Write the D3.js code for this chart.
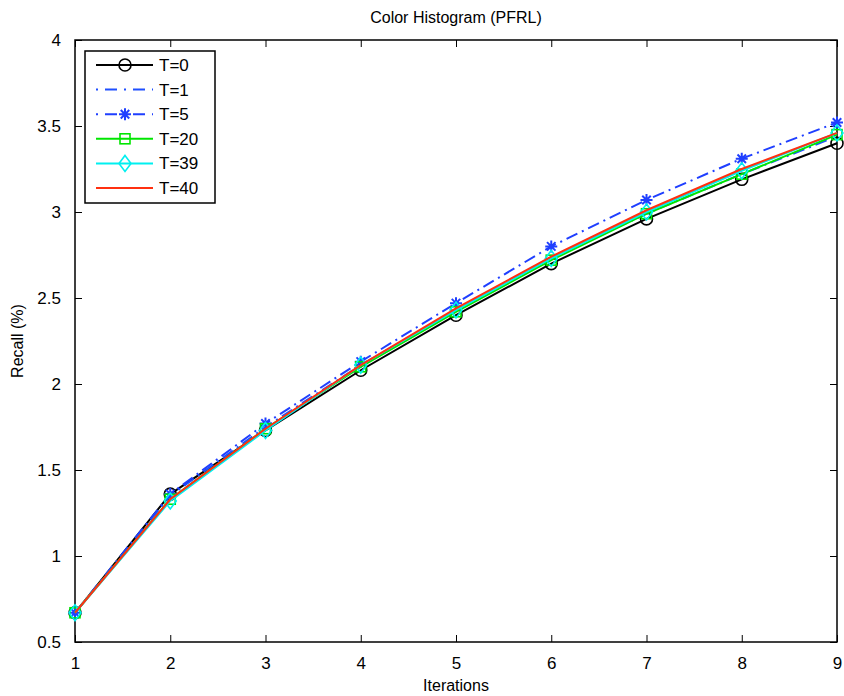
<!DOCTYPE html>
<html>
<head>
<meta charset="utf-8">
<script src="https://cdn.jsdelivr.net/npm/d3@7/dist/d3.min.js"></script>
<style>
  body { margin: 0; background: #fff; }
  text { font-family: "Liberation Sans", Arial, sans-serif; }
</style>
</head>
<body>
<div id="chart"></div>
<script>
var iterations = [1, 2, 3, 4, 5, 6, 7, 8, 9];
var t0  = [0.67, 1.36, 1.73, 2.08, 2.40, 2.70, 2.96, 3.19, 3.40];
var t1  = [0.67, 1.35, 1.75, 2.11, 2.43, 2.73, 2.99, 3.22, 3.44];
var t5  = [0.67, 1.36, 1.77, 2.13, 2.47, 2.80, 3.07, 3.31, 3.52];
var t20 = [0.67, 1.33, 1.74, 2.10, 2.42, 2.72, 2.99, 3.22, 3.45];
var t39 = [0.67, 1.32, 1.73, 2.11, 2.43, 2.73, 3.00, 3.24, 3.46];
var t40 = [0.67, 1.33, 1.74, 2.11, 2.44, 2.74, 3.01, 3.25, 3.46];
var yTicks = [0.5, 1, 1.5, 2, 2.5, 3, 3.5, 4];

var series = [
    {name: "T=0",  values: t0,  color: "#000000", dash: null, marker: "circle"},
    {name: "T=1",  values: t1,  color: "#1f4fff", dash: "12,5,2,5", marker: null},
    {name: "T=5",  values: t5,  color: "#1f3fff", dash: "12,5,2,5", marker: "star"},
    {name: "T=20", values: t20, color: "#00e600", dash: null, marker: "square"},
    {name: "T=39", values: t39, color: "#00f0f0", dash: null, marker: "diamond"},
    {name: "T=40", values: t40, color: "#ff3010", dash: null, marker: null}
];

var margin = {top: 40, right: 7, bottom: 54, left: 75},
    width = 844 - margin.left - margin.right,
    height = 696 - margin.top - margin.bottom;

const svg = d3.select("#chart").append("svg")
    .attr("width", 844)
    .attr("height", 696)
    .append("g")
    .attr("transform", "translate(" + margin.left + "," + margin.top + ")");

let x = d3.scaleLinear().domain([1, 9]).range([0, width]);
let y = d3.scaleLinear().domain([0.5, 4]).range([height, 0]);

// axes, ticks pointing inward, box on all sides
svg.append("g")
    .attr("transform", `translate(0,${height})`)
    .call(d3.axisBottom(x).tickValues(iterations).tickSize(-7).tickPadding(15).tickFormat(d3.format("d")))
    .call(g => g.selectAll(".domain").remove())
    .call(g => g.selectAll("text").style("font-size", "17px"));
svg.append("g")
    .call(d3.axisTop(x).tickValues(iterations).tickSize(-7).tickFormat(""))
    .call(g => g.selectAll(".domain").remove());
svg.append("g")
    .call(d3.axisLeft(y).tickValues(yTicks).tickSize(-7).tickPadding(14).tickFormat(d => d))
    .call(g => g.selectAll(".domain").remove())
    .call(g => g.selectAll("text").style("font-size", "17px"));
svg.append("g")
    .attr("transform", `translate(${width},0)`)
    .call(d3.axisRight(y).tickValues(yTicks).tickSize(-7).tickFormat(""))
    .call(g => g.selectAll(".domain").remove());
svg.selectAll(".tick line").attr("stroke", "#000");

svg.append("rect")
    .attr("width", width).attr("height", height)
    .attr("fill", "none").attr("stroke", "#000").attr("stroke-width", 1.5);

// marker shapes
function drawMarker(g, type, color, cx, cy) {
    if (type === "circle") {
        g.append("circle").attr("cx", cx).attr("cy", cy).attr("r", 6)
            .attr("fill", "none").attr("stroke", color).attr("stroke-width", 1.6);
    } else if (type === "square") {
        g.append("rect").attr("x", cx - 5).attr("y", cy - 5).attr("width", 10).attr("height", 10)
            .attr("fill", "none").attr("stroke", color).attr("stroke-width", 1.6);
    } else if (type === "diamond") {
        g.append("path").attr("d", `M${cx},${cy - 8}L${cx + 6},${cy}L${cx},${cy + 8}L${cx - 6},${cy}Z`)
            .attr("fill", "none").attr("stroke", color).attr("stroke-width", 1.6);
    } else if (type === "star") {
        let r = 6, p = "";
        [0, 45, 90, 135].forEach(a => {
            let rad = a * Math.PI / 180;
            p += `M${cx - r * Math.cos(rad)},${cy - r * Math.sin(rad)}L${cx + r * Math.cos(rad)},${cy + r * Math.sin(rad)}`;
        });
        g.append("path").attr("d", p).attr("stroke", color).attr("stroke-width", 2);
    }
}

let line = d3.line()
    .x((d, i) => x(iterations[i]))
    .y(d => y(d));

series.forEach(s => {
    let g = svg.append("g");
    g.append("path")
        .datum(s.values)
        .attr("d", line)
        .attr("fill", "none")
        .attr("stroke", s.color)
        .attr("stroke-width", 2)
        .attr("stroke-dasharray", s.dash);
    if (s.marker) {
        s.values.forEach((v, i) => drawMarker(g, s.marker, s.color, x(iterations[i]), y(v)));
    }
});

// title and axis labels
svg.append("text")
    .attr("x", width / 2).attr("y", -17)
    .attr("text-anchor", "middle")
    .style("font-size", "16px")
    .text("Color Histogram (PFRL)");
svg.append("text")
    .attr("x", width / 2).attr("y", height + 49)
    .attr("text-anchor", "middle")
    .style("font-size", "16px")
    .text("Iterations");
svg.append("text")
    .attr("transform", `translate(${-52},${height / 2}) rotate(-90)`)
    .attr("text-anchor", "middle")
    .style("font-size", "16px")
    .text("Recall (%)");

// legend
let legend = svg.append("g").attr("transform", "translate(10,11)");
legend.append("rect")
    .attr("width", 130).attr("height", 152)
    .attr("fill", "#fff").attr("stroke", "#000").attr("stroke-width", 1.5);
series.forEach((s, i) => {
    let ly = 14 + i * 24.6;
    let lg = legend.append("g");
    lg.append("line")
        .attr("x1", 11).attr("x2", 68).attr("y1", ly).attr("y2", ly)
        .attr("stroke", s.color).attr("stroke-width", 2)
        .attr("stroke-dasharray", s.dash ? "2,7,12,7" : null);
    if (s.marker) drawMarker(lg, s.marker, s.color, 40, ly);
    lg.append("text")
        .attr("x", 74).attr("y", ly + 6)
        .style("font-size", "17px")
        .text(s.name);
});
</script>
</body>
</html>
